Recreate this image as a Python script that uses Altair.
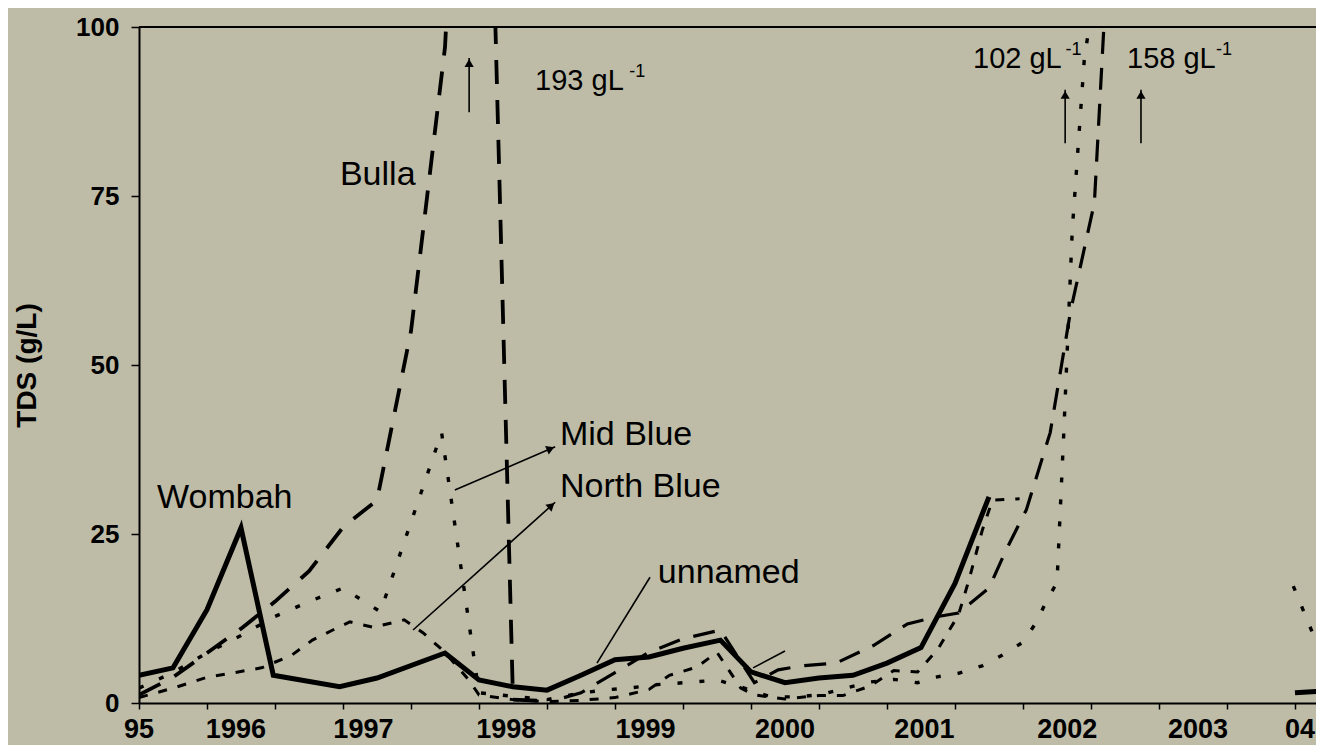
import math
import altair as alt
import pandas as pd

# ---------------- data (x in axis-tick units, 3 ticks per year from Jan 1995) ----------------
wombah_t = [0, 1, 2, 3, 3.95, 5.9, 7, 9, 10, 11, 12, 13, 14, 15, 16, 17.1, 18, 19, 20, 21, 22, 23, 24, 25]
wombah_v = [4.1, 5.2, 13.8, 25.9, 4.1, 2.4, 3.7, 7.4, 3.4, 2.4, 1.9, 4.1, 6.4, 6.8, 8.1, 9.3, 4.6, 3.0, 3.7, 4.1, 5.9, 8.2, 17.7, 30.5]
wombah2_t = [34, 35]
wombah2_v = [1.5, 1.8]

bulla_t = [0, 1, 2, 3, 4, 5, 6, 7, 8, 9, 10, 11, 12]
bulla_v = [1.2, 3.8, 7.4, 11, 15, 19.5, 26, 30, 55, 97, 193, 0.5, 0.3]

unnamed_t = [12.5, 13, 14, 15, 16, 17.1, 18.1, 18.8, 19.5, 20.5, 21.6, 22.6, 23.5, 24.1, 25, 25.5, 26.1, 26.8, 27.4, 28.1, 29]
unnamed_v = [0.8, 1.5, 4.5, 7.5, 9.5, 10.8, 3.0, 4.9, 5.5, 5.9, 8.5, 11.7, 12.8, 13.3, 17, 22.6, 28.6, 40, 58, 74, 158]

mid_t = [0, 1, 2, 3, 4, 5, 6, 7.1, 8.9, 10, 11, 12, 13, 13.85, 14.4, 15.2, 16.3, 17, 17.7, 18.2, 18.6, 19.3, 20,
         21.5, 22.2, 22.9, 23.4, 24.1, 24.8, 25.4, 26, 26.4, 26.7, 27, 27.2, 27.45, 27.8, 28]
mid_v = [2.2, 4.5, 7.4, 10, 12.8, 15, 17, 13.5, 40, 1.5, 1.0, 0.5, 1.5, 2.0, 2.2, 2.7, 3.1, 3.4, 2.4, 1.5, 0.9, 0.9, 1.2,
         3.1, 3.5, 3.0, 3.8, 4.4, 5.5, 7.1, 9.0, 12, 15.2, 17.8, 40, 70, 95, 102]
mid2_t = [33.95, 35.2]
mid2_v = [17.3, 2.0]

north_t = [0, 1, 2, 2.7, 3.6, 4.5, 5.1, 5.7, 6.2, 6.9, 7.8, 8.35, 9, 9.7, 10, 11, 12, 13, 14, 15, 15.6, 16.4, 17, 17.7,
           18.1, 19, 20, 20.7, 21.5, 22.2, 22.9, 23.5, 24.1, 24.4, 24.8, 25.1, 25.9]
north_v = [0.8, 2.2, 3.8, 4.4, 5.2, 7.1, 9.3, 10.8, 12, 11.2, 12.3, 10.4, 7.5, 3.4, 1.2, 0.5, 0.2, 0.4, 0.8, 2.0, 4.1, 5.3,
           7.5, 2.2, 1.2, 0.6, 1.1, 1.1, 2.5, 4.8, 4.6, 8.0, 13, 18, 25.5, 30, 30.2]

tick_pos = [0, 2.85, 6.6, 10.8, 14.9, 19, 23.1, 27.3, 31.15, 34.15]
tick_lab = ["95", "1996", "1997", "1998", "1999", "2000", "2001", "2002", "2003", "04"]

# annotations (data coordinates)
label_text = ["Wombah", "Bulla", "Mid Blue", "North Blue", "unnamed"]
label_t = [0.53, 5.91, 12.38, 12.38, 15.26]
label_v = [28.85, 76.6, 38.2, 30.5, 17.75]

peak_text = ["193 gL", "102 gL", "158 gL"]
peak_t = [11.65, 24.53, 29.06]
peak_v = [90.7, 93.9, 93.9]
sup_t = [14.42, 27.25, 31.68]
sup_v = [92.6, 95.9, 95.9]

# arrows: start (t, v) -> end (t, v); head flag
arr_t1 = [9.71, 27.24, 29.47, 9.29, 8.06, 13.47, 18.06]
arr_v1 = [87.4, 82.8, 82.8, 31.5, 10.8, 5.9, 5.2]
arr_t2 = [9.71, 27.24, 29.47, 12.24, 12.24, 15.03, 19.0]
arr_v2 = [95.4, 90.7, 90.7, 37.9, 29.7, 18.6, 7.7]
arr_head = [True, True, True, True, True, False, False]

# ---------------- layout ----------------
W, H = 1177, 676
XMAX = 34.618
PX_T = W / XMAX
PX_V = H / 100.0
BG = "#bebca7"
FONT = "Liberation Sans"

xs = alt.Scale(domain=[0, XMAX], nice=False, zero=False)
ys = alt.Scale(domain=[0, 100], nice=False, zero=False)


def frame(name, ts, vs, seg=0):
    return pd.DataFrame({"t": ts, "v": vs, "series": name, "seg": seg, "idx": range(len(ts))})


series = {
    "Wombah": (pd.concat([frame("Wombah", wombah_t, wombah_v, 0), frame("Wombah", wombah2_t, wombah2_v, 1)]), None, 5.0),
    "Bulla": (frame("Bulla", bulla_t, bulla_v), [24, 16], 3.8),
    "unnamed": (frame("unnamed", unnamed_t, unnamed_v), [22, 14], 3.2),
    "Mid Blue": (pd.concat([frame("Mid Blue", mid_t, mid_v, 0), frame("Mid Blue", mid2_t, mid2_v, 1)]), [5, 17], 3.4),
    "North Blue": (frame("North Blue", north_t, north_v), [9, 11], 3.0),
}

layers = []
for name, (d, dash, w) in series.items():
    kw = dict(color="black", strokeWidth=w, clip=True)
    if dash:
        kw["strokeDash"] = dash
    layers.append(
        alt.Chart(d).mark_line(**kw).encode(
            x=alt.X("t:Q", scale=xs,
                    axis=alt.Axis(values=list(range(35)), labels=False, tickSize=6, tickWidth=1.5,
                                  domainWidth=2, domainColor="black", tickColor="black", grid=False, title=None)),
            y=alt.Y("v:Q", scale=ys,
                    axis=alt.Axis(values=[0, 25, 50, 75, 100], tickSize=8, tickWidth=1.5, domainWidth=2,
                                  domainColor="black", tickColor="black", grid=False, labelPadding=12,
                                  labelFont=FONT, labelFontSize=26, labelFontWeight="bold", labelColor="black",
                                  title="TDS (g/L)", titleFont=FONT, titleFontSize=28, titleFontWeight="bold",
                                  titleColor="black", titleX=-112, titleY=338, titleAngle=270,
                                  titleAlign="center", titleBaseline="middle")),
            detail="seg:N",
            order="idx:Q",
        )
    )

# top frame line
top_rule = alt.Chart(pd.DataFrame({"a": [0]})).mark_rule(color="black", strokeWidth=2).encode(
    x=alt.value(0), x2=alt.value(W), y=alt.value(0))

# x tick labels
xlab = alt.Chart(pd.DataFrame({"t": tick_pos, "lab": tick_lab})).mark_text(
    font=FONT, fontSize=27, fontWeight="bold", color="black", align="center", baseline="alphabetic"
).encode(x=alt.X("t:Q", scale=xs), y=alt.value(711), text="lab:N")

# series labels
lab = alt.Chart(pd.DataFrame({"t": label_t, "v": label_v, "s": label_text})).mark_text(
    font=FONT, fontSize=34, color="black", align="left", baseline="alphabetic"
).encode(x=alt.X("t:Q", scale=xs), y=alt.Y("v:Q", scale=ys), text="s:N")

peak = alt.Chart(pd.DataFrame({"t": peak_t, "v": peak_v, "s": peak_text})).mark_text(
    font=FONT, fontSize=29, color="black", align="left", baseline="alphabetic"
).encode(x=alt.X("t:Q", scale=xs), y=alt.Y("v:Q", scale=ys), text="s:N")

sup = alt.Chart(pd.DataFrame({"t": sup_t, "v": sup_v, "s": ["-1"] * 3})).mark_text(
    font=FONT, fontSize=18, color="black", align="left", baseline="alphabetic"
).encode(x=alt.X("t:Q", scale=xs), y=alt.Y("v:Q", scale=ys), text="s:N")

# arrows
arr = pd.DataFrame({"t1": arr_t1, "v1": arr_v1, "t2": arr_t2, "v2": arr_v2})
shafts = alt.Chart(arr).mark_rule(color="black", strokeWidth=1.6).encode(
    x=alt.X("t1:Q", scale=xs), y=alt.Y("v1:Q", scale=ys), x2="t2:Q", y2="v2:Q")

heads = []
for t1, v1, t2, v2, h in zip(arr_t1, arr_v1, arr_t2, arr_v2, arr_head):
    if not h:
        continue
    dx, dy = (t2 - t1) * PX_T, (v2 - v1) * PX_V
    L = math.hypot(dx, dy)
    back = 5.0
    heads.append({"t": t2 - (dx / L) * back / PX_T, "v": v2 - (dy / L) * back / PX_V,
                  "ang": math.degrees(math.atan2(dx, dy)) % 360})
head = alt.Chart(pd.DataFrame(heads)).mark_point(shape="triangle-up", filled=True, color="black", size=85, opacity=1).encode(
    x=alt.X("t:Q", scale=xs), y=alt.Y("v:Q", scale=ys), angle=alt.Angle("ang:Q", scale=None))

chart = alt.layer(top_rule, *layers, shafts, head, lab, peak, sup, xlab).properties(
    width=W, height=H,
    autosize=alt.AutoSizeParams(type="none"),
    padding={"left": 131, "top": 19, "right": 0, "bottom": 42},
    background=BG,
).configure_view(stroke=None)

chart.save("out.html", embed_options={"renderer": "svg", "actions": False})
